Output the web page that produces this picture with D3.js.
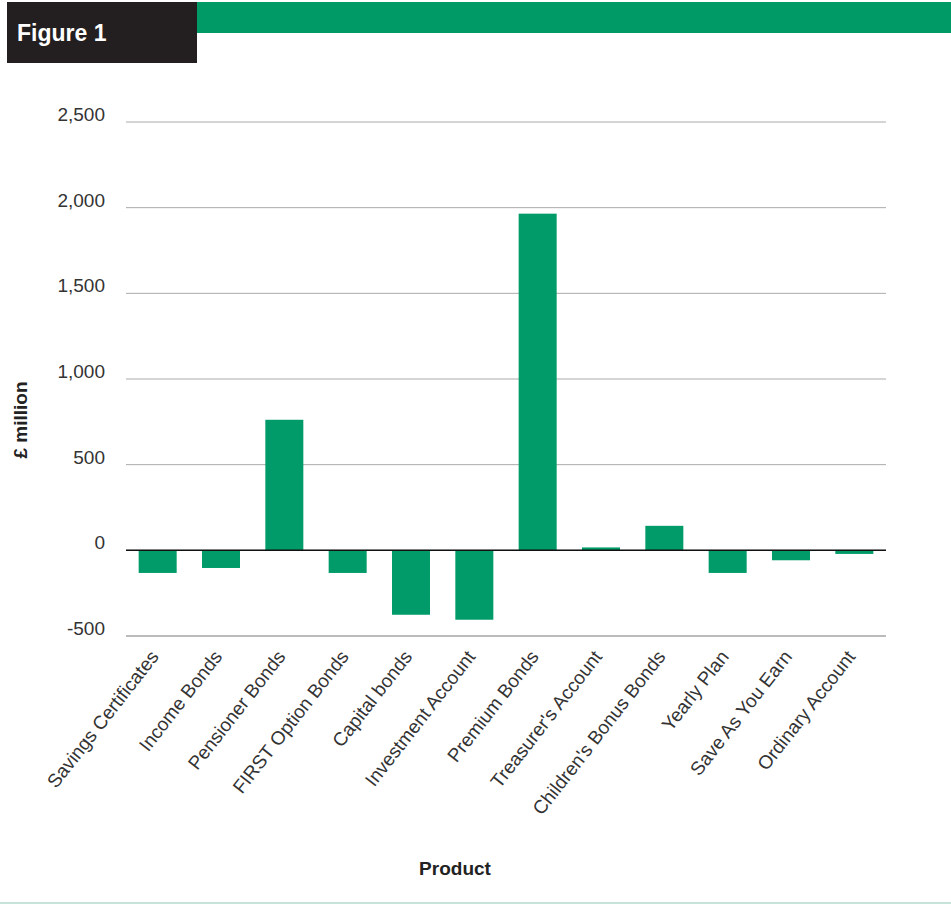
<!DOCTYPE html>
<html>
<head>
<meta charset="UTF-8">
<title>Figure 1</title>
<style>
  body { margin: 0; background: #fff; }
  svg { display: block; font-family: "Liberation Sans", Arial, sans-serif; }
  .tick-label { font-size: 19px; fill: #333; }
  .cat-label { font-size: 19px; fill: #333; }
  .axis-title { font-size: 19px; font-weight: bold; fill: #222; }
</style>
</head>
<body>
<div id="chart"></div>
<script src="https://d3js.org/d3.v7.min.js"></script>
<script>
const products = ["Savings Certificates", "Income Bonds", "Pensioner Bonds", "FIRST Option Bonds",
  "Capital bonds", "Investment Account", "Premium Bonds", "Treasurer's Account",
  "Children's Bonus Bonds", "Yearly Plan", "Save As You Earn", "Ordinary Account"];
const values = [-132, -103, 762, -132, -376, -405, 1965, 17, 143, -132, -58, -21];
const yTicks = [-500, 0, 500, 1000, 1500, 2000, 2500];

const width = 951, height = 904;
const green = "#009b68";

const svg = d3.select("#chart").append("svg")
  .attr("width", width).attr("height", height);

// header
svg.append("rect").attr("x", 197).attr("y", 2).attr("width", width - 197).attr("height", 31).attr("fill", "#009a66");
svg.append("rect").attr("x", 7).attr("y", 2).attr("width", 190).attr("height", 61).attr("fill", "#231f20");
svg.append("text").attr("x", 17).attr("y", 41).attr("fill", "#fff")
  .attr("font-size", 23).attr("font-weight", "bold").text("Figure 1");

const x = d3.scaleBand().domain(products).range([126, 886]).paddingInner(0.4).paddingOuter(0.2);
const y = d3.scaleLinear().domain([-500, 2500]).range([636, 122]);
const fmt = d => (d < 0 ? "-" : "") + d3.format(",")(Math.abs(d));

// gridlines
svg.append("g").selectAll("line").data(yTicks).join("line")
  .attr("x1", 126).attr("x2", 886)
  .attr("y1", d => y(d)).attr("y2", d => y(d))
  .attr("stroke", d => d === -500 ? "#bbb" : "#aaa")
  .attr("stroke-width", d => d === -500 ? 2 : 1);

svg.append("g").selectAll("text").data(yTicks).join("text")
  .attr("class", "tick-label")
  .attr("x", 105).attr("y", d => y(d) - 6)
  .attr("text-anchor", "end").attr("dominant-baseline", "middle")
  .text(fmt);

// bars
svg.append("g").selectAll("rect").data(values).join("rect")
  .attr("x", (d, i) => x(products[i]))
  .attr("width", x.bandwidth())
  .attr("y", d => y(Math.max(0, d)))
  .attr("height", d => Math.abs(y(d) - y(0)))
  .attr("fill", green);

// zero line
svg.append("line").attr("x1", 126).attr("x2", 886).attr("y1", y(0)).attr("y2", y(0))
  .attr("stroke", "#111").attr("stroke-width", 1.5);

// category labels
svg.append("g").selectAll("text").data(products).join("text")
  .attr("class", "cat-label")
  .attr("text-anchor", "end")
  .attr("transform", d => `translate(${x(d) + x.bandwidth() / 2 + 2},${657}) rotate(-52)`)
  .text(d => d);

svg.append("text").attr("class", "axis-title")
  .attr("transform", `translate(27,420) rotate(-90)`)
  .attr("text-anchor", "middle").text("£ million");

svg.append("text").attr("class", "axis-title")
  .attr("x", 455).attr("y", 875).attr("text-anchor", "middle").text("Product");

svg.append("line").attr("x1", 0).attr("x2", width).attr("y1", 903).attr("y2", 903)
  .attr("stroke", "#b5d9cb").attr("stroke-width", 1.5);
</script>
</body>
</html>
